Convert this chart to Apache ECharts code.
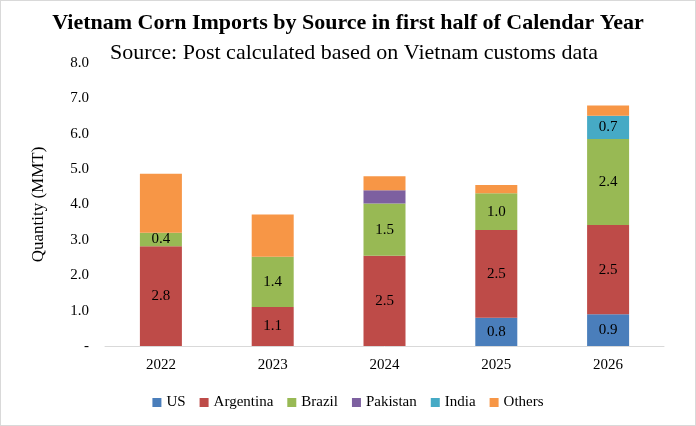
<!DOCTYPE html>
<html><head><meta charset="utf-8">
<script src="https://cdn.jsdelivr.net/npm/echarts@6/dist/echarts.min.js"></script>
<style>body{margin:0}#chart{width:694px;height:424px;border:1px solid #d9d9d9}</style>
</head><body><div id="chart"></div>
<script>
var years = ["2022", "2023", "2024", "2025", "2026"];
var data = {
  "US":        [0, 0, 0, 0.8, 0.9],
  "Argentina": [2.82, 1.1, 2.55, 2.48, 2.52],
  "Brazil":    [0.38, 1.42, 1.48, 1.04, 2.43],
  "Pakistan":  [0, 0, 0.37, 0, 0],
  "India":     [0, 0, 0, 0, 0.66],
  "Others":    [1.67, 1.2, 0.4, 0.23, 0.29]
};
var colors = {US: "#4a7ebb", Argentina: "#be4b48", Brazil: "#98b954", Pakistan: "#7d60a0", India: "#46aac5", Others: "#f79646"};
var labelled = {US: true, Argentina: true, Brazil: true, India: true};
var font = "Liberation Serif";
var chart = echarts.init(document.getElementById("chart"));
chart.setOption({
  animation: false,
  textStyle: {fontFamily: font},
  title: [
    {text: "Vietnam Corn Imports by Source in first half of Calendar Year", left: "center", top: 6,
     textStyle: {fontFamily: font, fontSize: 22, fontWeight: "bold", color: "#000"}},
    {text: "Source: Post calculated based on Vietnam customs data", left: 104, top: 36,
     textStyle: {fontFamily: font, fontSize: 22, fontWeight: "normal", color: "#000"}}
  ],
  legend: {bottom: 10, itemWidth: 9, itemHeight: 9, itemGap: 14, icon: "rect",
    textStyle: {fontFamily: font, fontSize: 15, color: "#000"}},
  grid: {left: 104, right: 31, top: 62, bottom: 79},
  xAxis: {type: "category", data: years, axisTick: {show: false},
    axisLine: {lineStyle: {color: "#d9d9d9"}},
    axisLabel: {fontFamily: font, fontSize: 15, color: "#000", margin: 12}},
  yAxis: {type: "value", min: 0, max: 8, interval: 1, name: "Quantity (MMT)",
    nameLocation: "middle", nameGap: 58,
    nameTextStyle: {fontFamily: font, fontSize: 17, color: "#000"},
    splitLine: {show: false}, axisLine: {show: false},
    axisLabel: {fontFamily: font, fontSize: 15, color: "#000", margin: 16,
      formatter: function (v) { return v === 0 ? "-" : v.toFixed(1); }}},
  series: Object.keys(data).map(function (k) {
    return {name: k, type: "bar", stack: "all", barWidth: 42, data: data[k],
      itemStyle: {color: colors[k]},
      label: {show: !!labelled[k], fontFamily: font, fontSize: 15, color: "#000",
        formatter: function (p) { return p.value >= 0.3 ? p.value.toFixed(1) : ""; }}};
  })
});
</script></body></html>
